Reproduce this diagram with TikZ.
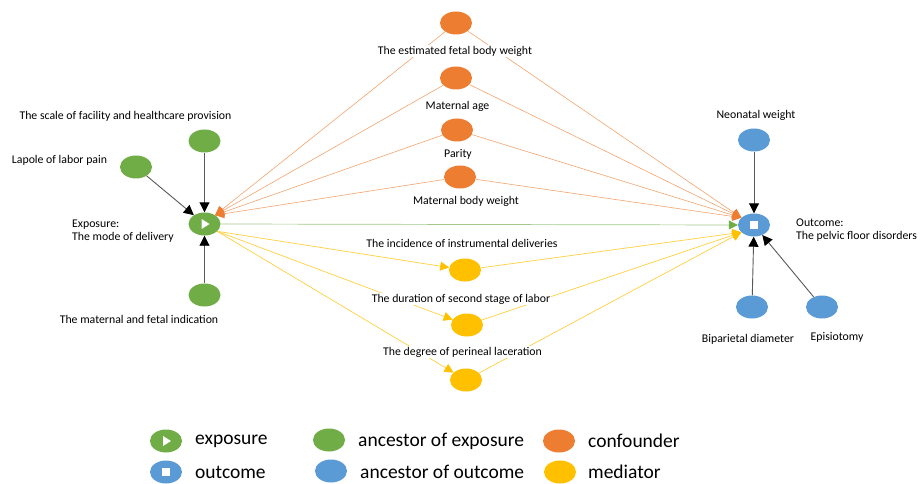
\documentclass[tikz,border=0pt]{standalone}
\usepackage{fontspec}
\setmainfont{Carlito}
\usetikzlibrary{arrows.meta,shapes.geometric}
\definecolor{cgreen}{HTML}{70AD47}
\definecolor{cblue}{HTML}{5B9BD5}
\definecolor{corange}{HTML}{ED7D31}
\definecolor{cyellow}{HTML}{FFC000}
\definecolor{cline}{HTML}{595959}
\begin{document}
\begin{tikzpicture}[x=1pt,y=-1pt,
  var/.style={ellipse, minimum width=32pt, minimum height=23pt, inner sep=0pt, draw=none},
  gvar/.style={var, fill=cgreen},
  bvar/.style={var, fill=cblue},
  ovar/.style={var, fill=corange},
  yvar/.style={var, fill=cyellow},
  lab/.style={font=\fontsize{11.8}{13}\selectfont, fill=white, inner sep=1pt},
  leg/.style={font=\fontsize{19.5}{22}\selectfont, anchor=west, inner sep=0pt},
  blk/.style={draw=cline, line width=0.9pt, -{Triangle[length=10pt,width=10pt,color=black]}},
  conf/.style={draw=corange!70, line width=0.6pt, -{Triangle[length=9pt,width=9pt,color=corange]}},
  med/.style={draw=cyellow!75, line width=0.7pt, -{Triangle[length=9pt,width=9pt,color=cyellow]}},
  grn/.style={draw=cgreen!65, line width=0.7pt, -{Triangle[length=9pt,width=9pt,color=cgreen]}}
]
\useasboundingbox (0,0) rectangle (924,484);

% variables
\node[gvar] (expo) at (204.5,224) {};
\node[gvar] (scale) at (204.5,141) {};
\node[gvar] (lap) at (136,167) {};
\node[gvar] (ind) at (204.5,295) {};
\node[ovar] (c1) at (456,23) {};
\node[ovar] (c2) at (456,78) {};
\node[ovar] (c3) at (457,130) {};
\node[ovar] (c4) at (460,177) {};
\node[yvar] (m1) at (465,270) {};
\node[yvar] (m2) at (467,325) {};
\node[yvar] (m3) at (466,380) {};
\node[bvar] (outc) at (754,225) {};
\node[bvar] (neo) at (754,140) {};
\node[bvar] (bip) at (752,307) {};
\node[bvar] (epi) at (822,307) {};

% icons
\fill[white] (expo.center) ++(-3,-5) -- ++(8,5) -- ++(-8,5) -- cycle;
\fill[white] (outc.center) ++(-4,-4) rectangle ++(8,8);

% edges
\foreach \c in {c1,c2,c3,c4}{
  \draw[conf] (\c) -- (expo.40);
  \draw[conf] (\c) -- (outc.150);
}
\draw[grn] (expo.east) -- (outc.west);
\foreach \m in {m1,m2,m3}{
  \draw[med] (expo.-30) -- (\m);
  \draw[med] (\m) -- (outc.210);
}
\draw[blk] (scale) -- (expo);
\draw[blk] (lap) -- (expo);
\draw[blk] (ind) -- (expo);
\draw[blk] (neo) -- (outc);
\draw[blk] (bip) -- (outc);
\draw[blk] (epi) -- (outc);

% labels
\node[lab] (lscale) at (125.5,116) {The scale of facility and healthcare provision};
\node[lab] (llap) at (59.5,160) {Lapole of labor pain};
\node[lab, align=left, anchor=west] (lexpo) at (71,231) {Exposure:\\The mode of delivery};
\node[lab] (lind) at (139,319) {The maternal and fetal indication};
\node[lab] (lc1) at (455,51) {The estimated fetal body weight};
\node[lab] (lc2) at (457.5,106) {Maternal age};
\node[lab] (lc3) at (458,154) {Parity};
\node[lab] (lc4) at (466,201) {Maternal body weight};
\node[lab] (lm1) at (462,243) {The incidence of instrumental deliveries};
\node[lab] (lm2) at (461,299) {The duration of second stage of labor};
\node[lab] (lm3) at (462.5,352) {The degree of perineal laceration};
\node[lab] (lneo) at (756,115) {Neonatal weight};
\node[lab, align=left, anchor=west] (loutc) at (795,230) {Outcome:\\The pelvic floor disorders};
\node[lab] (lbip) at (748,339) {Biparietal diameter};
\node[lab] (lepi) at (837,337) {Episiotomy};

% legend
\node[gvar] (k1) at (166,441) {};
\fill[white] (k1.center) ++(-3,-5) -- ++(8,5) -- ++(-8,5) -- cycle;
\node[bvar] (k2) at (166,472) {};
\fill[white] (k2.center) ++(-4,-4) rectangle ++(8,8);
\node[gvar] (k3) at (329,440) {};
\node[bvar] (k4) at (331,471) {};
\node[ovar] (k5) at (559,441) {};
\node[yvar] (k6) at (560,472) {};
\node[leg] (t1) at (195,441) {exposure};
\node[leg] (t2) at (195,472) {outcome};
\node[leg] (t3) at (358,441) {ancestor of exposure};
\node[leg] (t4) at (360,472) {ancestor of outcome};
\node[leg] (t5) at (588,441) {confounder};
\node[leg] (t6) at (588,472) {mediator};
\end{tikzpicture}
\end{document}
